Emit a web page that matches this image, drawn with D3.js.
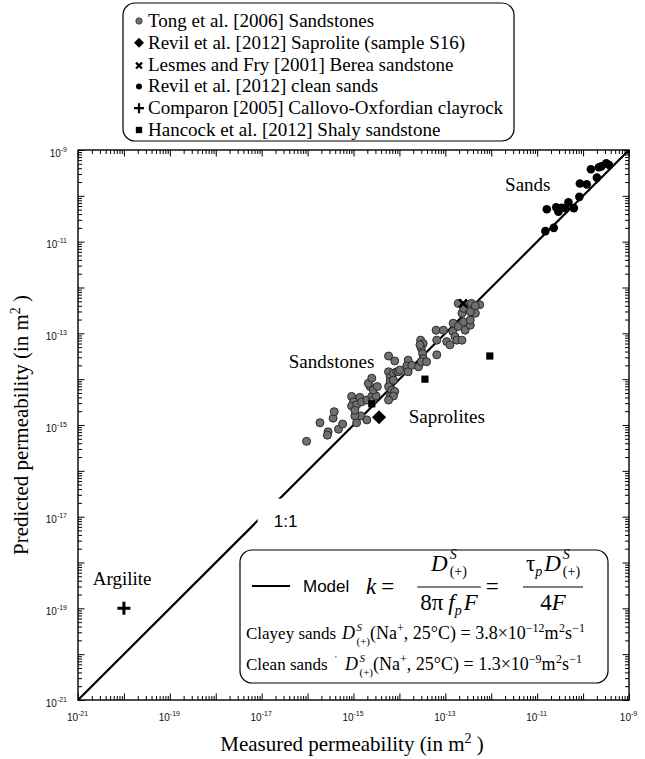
<!DOCTYPE html>
<html>
<head>
<meta charset="utf-8">
<script src="https://cdn.jsdelivr.net/npm/d3@7"></script>
<style>
  body { margin: 0; background: #fff; }
  svg { display: block; }
</style>
</head>
<body>
<svg id="chart" width="645" height="759"></svg>
<script>
// Measured vs predicted permeability (m^2), pairs [measured, predicted]
const tongSandstones = [
  [9.5e-17,4.4e-16],[1.86e-16,1.12e-15],[2.8e-16,7.1e-16],[2.7e-16,6.0e-16],[3.6e-16,1.41e-15],
  [3.8e-16,1.95e-15],[4.7e-16,8.1e-16],[5.8e-16,1.05e-15],[1.17e-15,1.12e-15],[1.45e-15,1.58e-15],
  [1.07e-15,1.58e-15],[1.95e-15,1.29e-15],[9.1e-16,4.2e-15],[1.0e-15,3.2e-15],[9.1e-16,2.6e-15],
  [1.17e-15,2.75e-15],[1.38e-15,4.0e-15],[1.51e-15,3.2e-15],[1.95e-15,3.5e-15],[2.5e-15,4.2e-15],
  [2.7e-15,3.5e-15],[3.1e-15,4.3e-15],[1.07e-15,2.1e-15],[2.3e-15,6.9e-15],[2.7e-15,5.8e-15],
  [3.3e-15,6.9e-15],[2.1e-15,8.1e-15],[2.5e-15,1.05e-14],[5.8e-15,1.45e-14],[6.3e-15,1.12e-14],
  [7.4e-15,1.35e-14],[8.7e-15,1.45e-14],[6.3e-15,8.9e-15],[7.4e-15,9.5e-15],[5.8e-15,6.9e-15],
  [6.8e-15,5.8e-15],[7.9e-15,5.4e-15],[6.3e-15,4.2e-15],[7.4e-15,4.3e-15],[5.8e-15,3.5e-15],
  [9.5e-15,1.45e-14],[5.8e-15,3.2e-14],[7.9e-15,2.5e-14],[1.02e-14,1.58e-14],[1.55e-14,2.6e-14],
  [1.45e-14,1.95e-14],[1.55e-14,1.45e-14],[1.86e-14,2.0e-14],[2.6e-14,1.86e-14],[2.9e-14,7.1e-14],
  [3.3e-14,6.0e-14],[3.0e-14,4.7e-14],[3.2e-14,3.6e-14],[3.3e-14,2.8e-14],[3.0e-14,2.4e-14],
  [2.8e-14,5.6e-14],[3.9e-14,2.4e-14],[6.5e-14,3.4e-14],[6.3e-14,1.17e-13],[6.5e-14,7.1e-14],
  [9.1e-14,1.17e-13],[1.07e-13,6.6e-14],[1.26e-13,5.6e-14],[1.48e-13,1.66e-13],[1.45e-13,1.10e-13],
  [1.62e-13,8.5e-14],[1.78e-13,7.1e-14],[2.3e-13,7.1e-14],[1.91e-13,1.41e-13],[2.5e-13,1.78e-13],
  [2.7e-13,1.17e-13],[3.5e-13,1.51e-13],[3.5e-13,1.95e-13],[2.3e-13,2.75e-13],[2.9e-13,3.8e-13],
  [3.7e-13,4.5e-13],[4.5e-13,2.75e-13],[5.6e-13,4.2e-13],[2.5e-13,3.5e-13],[3.5e-13,2.95e-13],
  [4.5e-13,4.0e-13],[1.91e-13,4.5e-13]
];
const revilSaprolite = [[3.6e-15,1.48e-15]];
const lesmesBerea = [[2.45e-13,4.5e-13]];
const revilCleanSands = [
  [1.62e-11,5.1e-11],[1.51e-11,1.70e-11],[2.3e-11,2.0e-11],[2.6e-11,5.6e-11],[2.9e-11,4.5e-11],
  [3.4e-11,5.5e-11],[4.1e-11,5.4e-11],[4.8e-11,7.2e-11],[6.3e-11,5.4e-11],[8.3e-11,9.5e-11],
  [8.5e-11,1.86e-10],[1.20e-10,1.78e-10],[1.48e-10,3.8e-10],[2.0e-10,2.5e-10],[2.2e-10,4.2e-10],
  [2.5e-10,4.4e-10],[3.2e-10,5.1e-10],[3.7e-10,4.7e-10]
];
const comparonClayrock = [[1e-20,1e-19]];
const hancockShaly = [[2.5e-15,2.9e-15],[3.6e-14,1.0e-14],[9.3e-13,3.2e-14]];
const modelLine = [1e-21, 1e-9];

const legendLabels = [
  "Tong et al. [2006] Sandstones",
  "Revil et al. [2012] Saprolite (sample S16)",
  "Lesmes and Fry [2001] Berea sandstone",
  "Revil et al. [2012] clean sands",
  "Comparon [2005] Callovo-Oxfordian clayrock",
  "Hancock et al. [2012] Shaly sandstone"
];
const decadeExponents = d3.range(-21, -8);      // -21 .. -9
const labelledExponents = d3.range(-21, -8, 2); // odd exponents
const groupLabels = [
  {text: "Sands", at: [2.0e-12, 1.28e-10]},
  {text: "Sandstones", at: [3.9e-17, 1.75e-14]},
  {text: "Saprolites", at: [1.6e-14, 1.1e-15]},
  {text: "Argilite", at: [2.1e-21, 3.2e-19]}
];

const SERIF = "'Liberation Serif','Times New Roman',serif";
const SANS = "'Liberation Sans',Arial,sans-serif";

const svg = d3.select('#chart');
const plot = {left: 78, right: 629, top: 150, bottom: 700};
const x = d3.scaleLog().domain([1e-21, 1e-9]).range([plot.left, plot.right]);
const y = d3.scaleLog().domain([1e-21, 1e-9]).range([plot.bottom, plot.top]);

const majorTicks = decadeExponents.map(e => Math.pow(10, e));
const minorTicks = [];
decadeExponents.slice(0, -1).forEach(e => {
  for (let m = 2; m <= 9; m++) minorTicks.push(m * Math.pow(10, e));
});
const isLabelled = d => labelledExponents.includes(Math.round(Math.log10(d)));

// ---- axes: inward ticks on all four sides
function tickAxis(axisFn, scale, values, size, transform) {
  const g = svg.append('g').attr('transform', transform)
    .call(axisFn(scale).tickValues(values).tickSize(-size).tickSizeOuter(0).tickFormat(''));
  g.select('.domain').remove();
  g.selectAll('line').attr('stroke', '#000').attr('stroke-width', 1);
  return g;
}
[[d3.axisBottom, x, `translate(0,${plot.bottom})`],
 [d3.axisTop, x, `translate(0,${plot.top})`],
 [d3.axisLeft, y, `translate(${plot.left},0)`],
 [d3.axisRight, y, `translate(${plot.right},0)`]].forEach(([fn, sc, tr]) => {
  tickAxis(fn, sc, minorTicks, 4, tr);
  tickAxis(fn, sc, majorTicks, 6.5, tr);
});

function powerLabel(sel, d) {
  const e = Math.round(Math.log10(d));
  sel.text(null);
  sel.append('tspan').attr('font-size', 10).text('10');
  sel.append('tspan').attr('font-size', 7).attr('dy', -5).text('-' + Math.abs(e));
}
const xLab = svg.append('g').attr('transform', `translate(0,${plot.bottom})`)
  .call(d3.axisBottom(x).tickValues(majorTicks.filter(isLabelled)).tickSize(0).tickFormat(''));
xLab.select('.domain').remove();
xLab.selectAll('.tick text').attr('y', 21).attr('dy', 0).attr('x', -1)
  .attr('font-family', SANS).attr('fill', '#111').attr('text-anchor', 'middle')
  .each(function(d) { powerLabel(d3.select(this), d); });

const yLab = svg.append('g').attr('transform', `translate(${plot.left},0)`)
  .call(d3.axisLeft(y).tickValues(majorTicks.filter(isLabelled)).tickSize(0).tickFormat(''));
yLab.select('.domain').remove();
yLab.selectAll('.tick text').attr('x', -11).attr('y', 6).attr('dy', 0)
  .attr('font-family', SANS).attr('fill', '#111').attr('text-anchor', 'end')
  .each(function(d) { powerLabel(d3.select(this), d); });

svg.append('rect').attr('x', plot.left).attr('y', plot.top)
  .attr('width', plot.right - plot.left).attr('height', plot.bottom - plot.top)
  .attr('fill', 'none').attr('stroke', '#000').attr('stroke-width', 1.4);

// ---- axis titles
const xt = svg.append('text').attr('x', 352).attr('y', 751).attr('text-anchor', 'middle')
  .attr('font-family', SERIF).attr('font-size', 21);
xt.append('tspan').text('Measured permeability (in m');
xt.append('tspan').attr('font-size', 14).attr('dy', -8).text('2');
xt.append('tspan').attr('dy', 8).text(' )');

const yt = svg.append('text').attr('transform', 'translate(28,425) rotate(-90)')
  .attr('text-anchor', 'middle').attr('font-family', SERIF).attr('font-size', 21);
yt.append('tspan').text('Predicted permeability (in m');
yt.append('tspan').attr('font-size', 14).attr('dy', -8).text('2');
yt.append('tspan').attr('dy', 8).text(' )');

// ---- 1:1 model line with its label (white patch breaks the line)
svg.append('path').datum(modelLine)
  .attr('d', d3.line().x(d => x(d)).y(d => y(d)))
  .attr('stroke', '#000').attr('stroke-width', 2.2).attr('fill', 'none');
const oneToOne = 1.0e-17; // where the break sits along the line
const ox = x(oneToOne), oy = y(oneToOne);
svg.append('rect').attr('x', ox - 4).attr('y', oy - 18)
  .attr('width', 46).attr('height', 32).attr('fill', '#fff');
svg.append('text').attr('x', ox + 24).attr('y', oy + 10)
  .attr('text-anchor', 'middle').attr('font-family', SANS).attr('font-size', 17).text('1:1');

// ---- data marks
svg.append('g').selectAll('circle').data(tongSandstones).join('circle')
  .attr('cx', d => x(d[0])).attr('cy', d => y(d[1])).attr('r', 4)
  .attr('fill', '#707070').attr('stroke', '#2b2b2b').attr('stroke-width', 1);
svg.append('g').selectAll('circle').data(revilCleanSands).join('circle')
  .attr('cx', d => x(d[0])).attr('cy', d => y(d[1])).attr('r', 4.3).attr('fill', '#000');
const diamond = d3.symbol(d3.symbolSquare, 100);
svg.append('g').selectAll('path').data(revilSaprolite).join('path')
  .attr('d', diamond).attr('fill', '#000')
  .attr('transform', d => `translate(${x(d[0])},${y(d[1])}) rotate(45)`);
const square = d3.symbol(d3.symbolSquare, 52);
svg.append('g').selectAll('path').data(hancockShaly).join('path')
  .attr('d', square).attr('fill', '#000')
  .attr('transform', d => `translate(${x(d[0])},${y(d[1])})`);
function crossMark(g, cx, cy, r, w, rot) {
  g.append('path').attr('d', `M${-r},0H${r}M0,${-r}V${r}`)
    .attr('stroke', '#000').attr('stroke-width', w).attr('fill', 'none')
    .attr('transform', `translate(${cx},${cy}) rotate(${rot})`);
}
lesmesBerea.forEach(d => crossMark(svg, x(d[0]), y(d[1]), 5.5, 2.6, 45));
comparonClayrock.forEach(d => crossMark(svg, x(d[0]), y(d[1]), 6.5, 3, 0));

// ---- group labels
svg.append('g').selectAll('text').data(groupLabels).join('text')
  .attr('x', d => x(d.at[0])).attr('y', d => y(d.at[1]))
  .attr('font-family', SERIF).attr('font-size', 19).text(d => d.text);

// ---- legend (top)
const lg = svg.append('g');
lg.append('rect').attr('x', 123).attr('y', 3).attr('width', 391).attr('height', 138)
  .attr('rx', 12).attr('fill', '#fff').attr('stroke', '#000').attr('stroke-width', 1.2);
const rowY = i => 21 + i * 21.8;
legendLabels.forEach((t, i) => {
  lg.append('text').attr('x', 148).attr('y', rowY(i) + 6)
    .attr('font-family', SERIF).attr('font-size', 19).text(t);
});
const mx = 139;
lg.append('circle').attr('cx', mx).attr('cy', rowY(0)).attr('r', 3.2)
  .attr('fill', '#707070').attr('stroke', '#333').attr('stroke-width', 0.8);
lg.append('path').attr('d', d3.symbol(d3.symbolSquare, 50)).attr('fill', '#000')
  .attr('transform', `translate(${mx},${rowY(1)}) rotate(45)`);
crossMark(lg, mx, rowY(2) + 1, 4.2, 2.2, 45);
lg.append('circle').attr('cx', mx).attr('cy', rowY(3)).attr('r', 3).attr('fill', '#000');
crossMark(lg, mx, rowY(4), 5, 2.2, 0);
lg.append('path').attr('d', d3.symbol(d3.symbolSquare, 40)).attr('fill', '#000')
  .attr('transform', `translate(${mx},${rowY(5)})`);

// ---- model box (bottom right)
const mb = svg.append('g');
mb.append('rect').attr('x', 240).attr('y', 550).attr('width', 368).attr('height', 133)
  .attr('rx', 12).attr('fill', '#fff').attr('stroke', '#000').attr('stroke-width', 1.2);

// lay out inline pieces left to right; returns total width
function rich(g, x0, y0, parts, size) {
  let cx = x0;
  parts.forEach(p => {
    const mk = (q, xx) => g.append('text').attr('x', xx).attr('y', y0 + (q.dy || 0))
      .attr('font-family', q.sans ? SANS : SERIF).attr('font-size', q.size || size)
      .attr('font-style', q.it ? 'italic' : null).text(q.t);
    if (p.stack) {
      const w = Math.max(...p.stack.map(q => mk(q, cx).node().getComputedTextLength()));
      cx += w + (p.gap || 0);
    } else {
      cx += mk(p, cx).node().getComputedTextLength() + (p.gap || 0);
    }
  });
  return cx - x0;
}
function centred(g, cxm, y0, parts, size) {
  const sub = g.append('g');
  const w = rich(sub, 0, y0, parts, size);
  sub.attr('transform', `translate(${cxm - w / 2},0)`);
  return w;
}
const dS = (sup, sub, s) => ({stack: [{t: 'S', it: true, size: s, dy: sup}, {t: '(+)', size: s, dy: sub}]});

mb.append('line').attr('x1', 252).attr('x2', 290).attr('y1', 586).attr('y2', 586)
  .attr('stroke', '#000').attr('stroke-width', 2);
mb.append('text').attr('x', 303).attr('y', 592).attr('font-family', SANS).attr('font-size', 17).text('Model');
rich(mb, 366, 594, [{t: 'k', it: true, gap: 5}, {t: '='}], 23);
// fraction 1
const f1 = 449;
const w1n = centred(mb, f1, 571, [{t: 'D', it: true, gap: 2}, dS(-12, 5, 14)], 23);
const w1d = centred(mb, f1, 610, [{t: '8π', gap: 5}, {t: 'f', it: true}, {t: 'p', it: true, size: 14, dy: 5, gap: 2}, {t: 'F', it: true}], 23);
const b1 = Math.max(w1n, w1d) + 6;
mb.append('line').attr('x1', f1 - b1 / 2).attr('x2', f1 + b1 / 2).attr('y1', 587).attr('y2', 587)
  .attr('stroke', '#000').attr('stroke-width', 1.2);
mb.append('text').attr('x', f1 + b1 / 2 + 5).attr('y', 594).attr('font-family', SERIF).attr('font-size', 23).text('=');
// fraction 2
const f2 = 553;
const w2n = centred(mb, f2, 571, [{t: 'τ'}, {t: 'p', it: true, size: 14, dy: 5, gap: 2}, {t: 'D', it: true, gap: 2}, dS(-12, 5, 14)], 23);
const w2d = centred(mb, f2, 610, [{t: '4'}, {t: 'F', it: true}], 23);
const b2 = Math.max(w2n, w2d) + 6;
mb.append('line').attr('x1', f2 - b2 / 2).attr('x2', f2 + b2 / 2).attr('y1', 587).attr('y2', 587)
  .attr('stroke', '#000').attr('stroke-width', 1.2);

// diffusion coefficients
function coeffRow(label, yb, xf, mant, exp) {
  mb.append('text').attr('x', 246).attr('y', yb).attr('font-family', SERIF).attr('font-size', 17).text(label);
  rich(mb, xf, yb, [
    {t: 'D', it: true, gap: 1.5}, dS(-8.5, 5.5, 11),
    {t: '(Na'}, {t: '+', size: 12, dy: -7},
    {t: ', 25°C) = ' + mant + '×10'}, {t: '−' + exp, size: 12, dy: -7},
    {t: ' m', gap: 0.5}, {t: '2', size: 12, dy: -7}, {t: 's'}, {t: '−1', size: 12, dy: -7}
  ], 18);
}
coeffRow('Clayey sands', 639, 342, '3.8', '12');
coeffRow('Clean sands', 670, 345, '1.3', '9');
mb.append('text').attr('x', 335).attr('y', 662).attr('font-family', SERIF).attr('font-size', 9).text("'");
</script>
</body>
</html>
